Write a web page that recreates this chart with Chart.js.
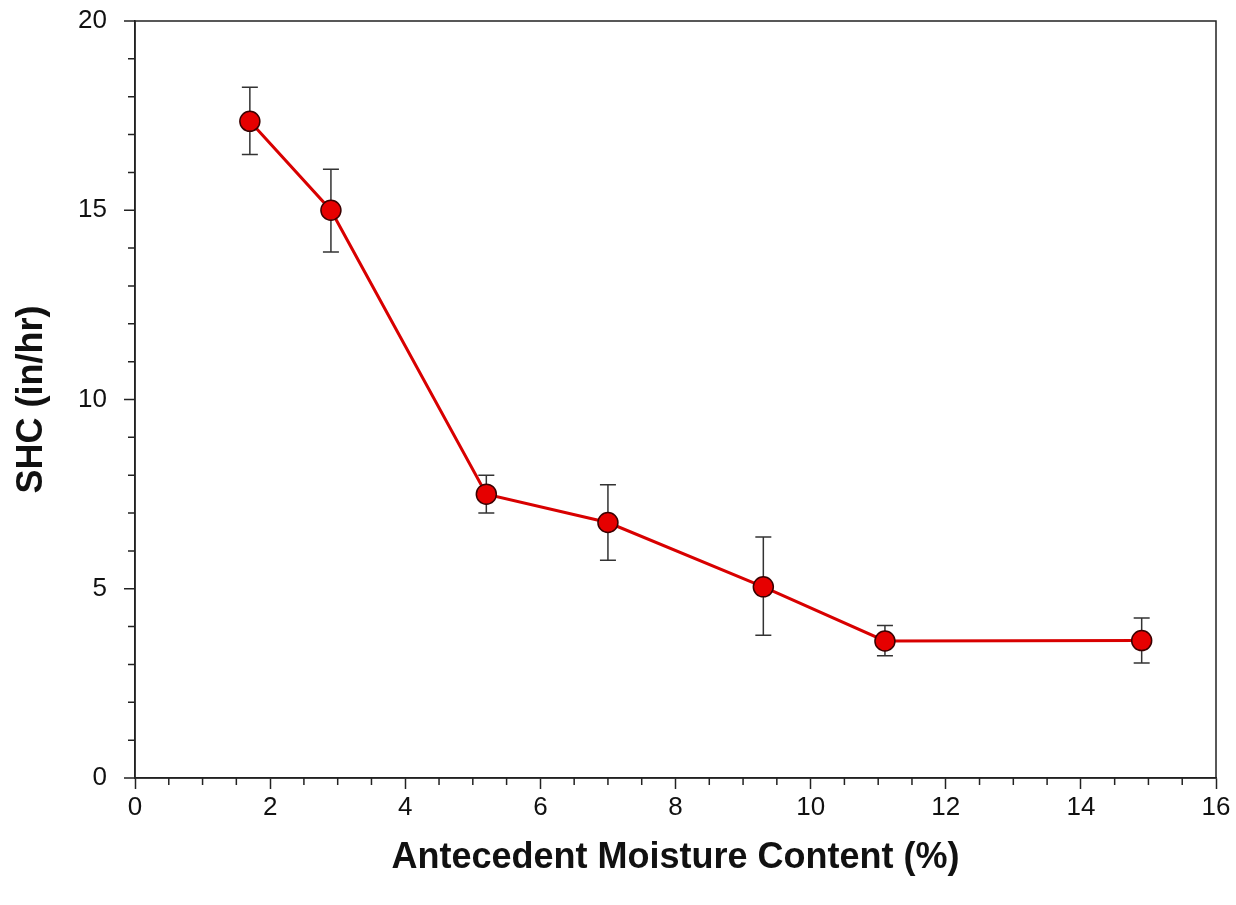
<!DOCTYPE html>
<html>
<head>
<meta charset="utf-8">
<script src="https://cdn.jsdelivr.net/npm/chart.js@4"></script>
<style>
  html, body { margin: 0; padding: 0; background: #fff; }
  #wrap { width: 1236px; height: 905px; }
</style>
</head>
<body>
<div id="wrap"><canvas id="shcChart" width="1236" height="905"></canvas></div>
<script>
// moisture content (%) vs saturated hydraulic conductivity
const moisture = [1.7, 2.9, 5.2, 7.0, 9.3, 11.1, 14.9];
const shc      = [17.35, 15.0, 7.5, 6.75, 5.05, 3.62, 3.63];
const errUp    = [18.25, 16.08, 8.0, 7.75, 6.37, 4.03, 4.23];
const errDown  = [16.47, 13.9, 7.0, 5.75, 3.77, 3.23, 3.04];

const xTicks = [0, 2, 4, 6, 8, 10, 12, 14, 16];
const yTicks = [0, 5, 10, 15, 20];

// error bars + ticks + frame, drawn through the chart's scales
const extras = {
  id: "extras",
  beforeDatasetsDraw(chart) {
    const { ctx, scales: { x, y } } = chart;
    ctx.save();
    ctx.strokeStyle = "#333";
    ctx.lineWidth = 1.5;
    moisture.forEach((m, i) => {
      const px = x.getPixelForValue(m);
      const top = y.getPixelForValue(errUp[i]);
      const bot = y.getPixelForValue(errDown[i]);
      ctx.beginPath();
      ctx.moveTo(px, top); ctx.lineTo(px, bot);
      ctx.moveTo(px - 8, top); ctx.lineTo(px + 8, top);
      ctx.moveTo(px - 8, bot); ctx.lineTo(px + 8, bot);
      ctx.stroke();
    });
    ctx.restore();
  },
  afterDraw(chart) {
    const { ctx, chartArea: a, scales: { x, y } } = chart;
    ctx.save();
    ctx.strokeStyle = "#222";
    ctx.lineWidth = 1.5;
    ctx.strokeRect(a.left, a.top, a.right - a.left, a.bottom - a.top);
    ctx.beginPath();
    for (let v = 0.5; v < 16; v += 0.5) {
      if (v % 2 === 0) continue;
      const px = x.getPixelForValue(v);
      ctx.moveTo(px, a.bottom); ctx.lineTo(px, a.bottom + 7);
    }
    for (let v = 0; v <= 20; v++) {
      const py = y.getPixelForValue(v);
      ctx.moveTo(a.left, py); ctx.lineTo(a.left - (v % 5 === 0 ? 11 : 7), py);
    }
    ctx.stroke();
    ctx.restore();
  }
};

new Chart(document.getElementById("shcChart"), {
  type: "scatter",
  data: {
    datasets: [{
      data: moisture.map((m, i) => ({ x: m, y: shc[i] })),
      showLine: true,
      borderColor: "#d80000",
      borderWidth: 3,
      pointBackgroundColor: "#e60000",
      pointBorderColor: "#3a0000",
      pointBorderWidth: 1.5,
      pointRadius: 10,
      pointHoverRadius: 10
    }]
  },
  options: {
    responsive: false,
    animation: false,
    layout: { padding: { top: 21, right: 20, left: 0, bottom: 0 } },
    plugins: { legend: { display: false }, tooltip: { enabled: false } },
    scales: {
      x: {
        type: "linear",
        min: 0, max: 16,
        afterBuildTicks: s => { s.ticks = xTicks.map(v => ({ value: v })); },
        afterFit: s => { s.height = 127; },
        grid: { drawOnChartArea: false, tickLength: 11, tickColor: "#222", tickWidth: 1.5 },
        border: { color: "#222", width: 1.5 },
        ticks: { color: "#111", font: { family: "Liberation Sans", size: 26 }, padding: 3, maxRotation: 0 },
        title: {
          display: true, text: "Antecedent Moisture Content (%)", color: "#111",
          font: { family: "Liberation Sans", size: 36, weight: "bold" },
          padding: { top: 0, bottom: 25 }
        }
      },
      y: {
        type: "linear",
        min: 0, max: 20,
        afterBuildTicks: s => { s.ticks = yTicks.map(v => ({ value: v })); },
        afterFit: s => { s.width = 135; },
        grid: { drawOnChartArea: false, tickLength: 28, tickColor: "rgba(0,0,0,0)" },
        border: { color: "#222", width: 1.5 },
        ticks: { color: "#111", font: { family: "Liberation Sans", size: 26 }, padding: 0 },
        title: {
          display: true, text: "SHC (in/hr)", color: "#111",
          font: { family: "Liberation Sans", size: 36, weight: "bold" },
          padding: { top: 10, bottom: 0 }
        }
      }
    }
  },
  plugins: [extras]
});
</script>
</body>
</html>
